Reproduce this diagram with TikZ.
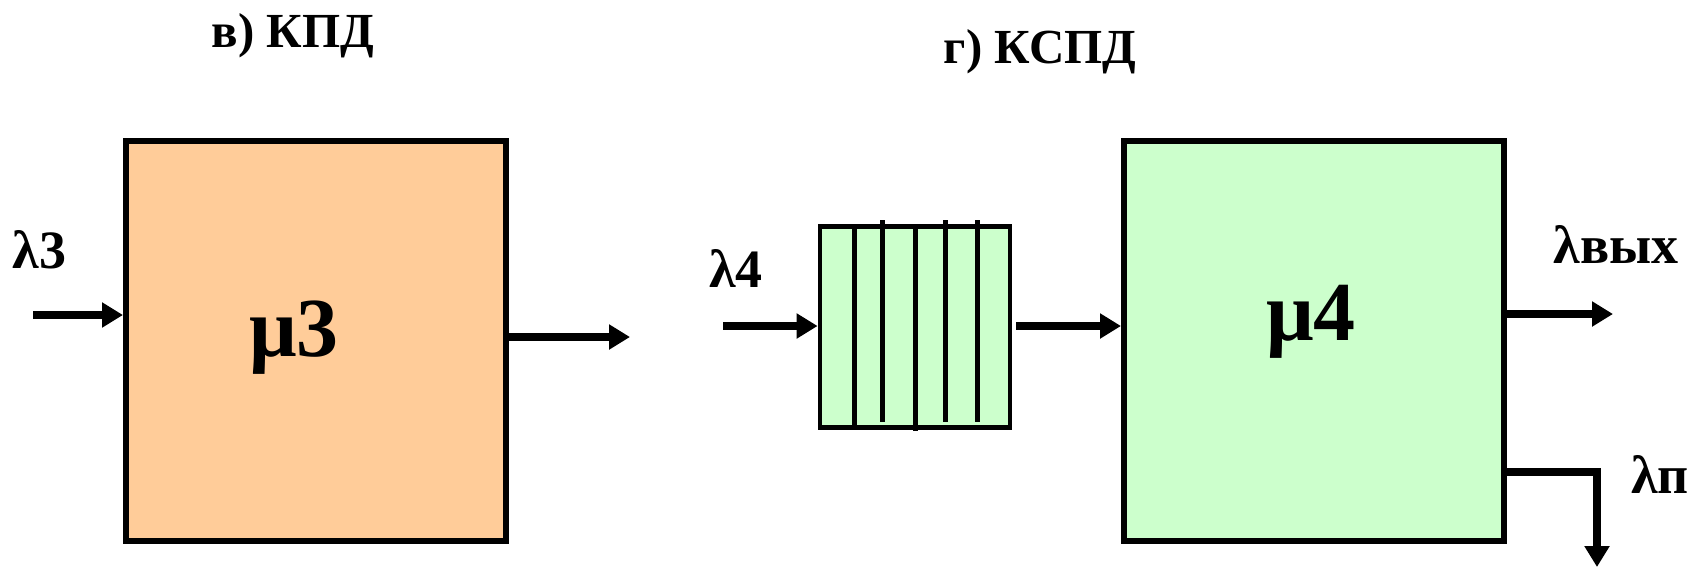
\documentclass[tikz,border=0pt]{standalone}
\usepackage{fontspec}
\setmainfont{Liberation Serif}
\usetikzlibrary{arrows.meta}
\definecolor{peach}{HTML}{FFCC99}
\definecolor{mint}{HTML}{CCFFCC}
\begin{document}
\begin{tikzpicture}[x=0.5pt,y=-0.5pt,
  box/.style={draw=black,line width=3pt,minimum width=190pt,minimum height=200pt,inner sep=0pt},
  qbox/.style={draw=black,line width=2.4pt,fill=mint,minimum width=95pt,minimum height=100.5pt,inner sep=0pt},
  arr/.style={line width=4pt,-{Triangle[length=10.5pt,width=12pt]}},
  bar/.style={line width=2.5pt},
  ttl/.style={font=\bfseries\fontsize{24.5}{29}\selectfont,anchor=base,inner sep=0pt},
  lbl/.style={font=\bfseries\fontsize{27}{32}\selectfont,anchor=base,inner sep=0pt},
  mu/.style={font=\bfseries\fontsize{42}{48}\selectfont,anchor=base,inner sep=0pt}]
\useasboundingbox (0,0) rectangle (1703,569);
% titles
\node[ttl] (t1) at (293,47) {в) КПД};
\node[ttl] (t2) at (1040,63) {г) КСПД};
% box 1
\node[box,fill=peach] (b1) at (316,341) {};
\node[mu] (m3) at (294,356) {μ3};
\node[lbl] (l3) at (39.5,268) {λ3};
\coordinate (in3) at (33,315);
\coordinate (out3) at (630,337);
\draw[arr] (in3) -- (in3 -| b1.west);
\draw[arr] (b1.east |- out3) -- (out3);
% queue
\node[qbox] (q) at (915,327) {};
\draw[bar] (854.5,226.5) -- (854.5,427.5);
\draw[bar] (882,220) -- (882,422);
\draw[bar] (915.5,229) -- (915.5,431);
\draw[bar] (945.5,220) -- (945.5,422);
\draw[bar] (977.5,220) -- (977.5,422);
\node[lbl] (l4) at (736,287) {λ4};
\coordinate (in4) at (723,326);
\draw[arr] (in4) -- (in4 -| q.west);
% box 2
\node[box,fill=mint] (b2) at (1314,341) {};
\node[mu] (m4) at (1311,340) {μ4};
\draw[arr] ([xshift=2pt]q.east |- in4) -- (in4 -| b2.west);
\node[lbl] (lo) at (1616,263) {λвых};
\node[lbl] (lp) at (1660,493) {λп};
\coordinate (o4) at (1613,314);
\coordinate (c4) at (1597,472);
\coordinate (p4) at (1597,567);
\draw[arr] (b2.east |- o4) -- (o4);
\draw[arr,line join=miter] (b2.east |- c4) -- (c4) -- (p4);
\end{tikzpicture}
\end{document}
